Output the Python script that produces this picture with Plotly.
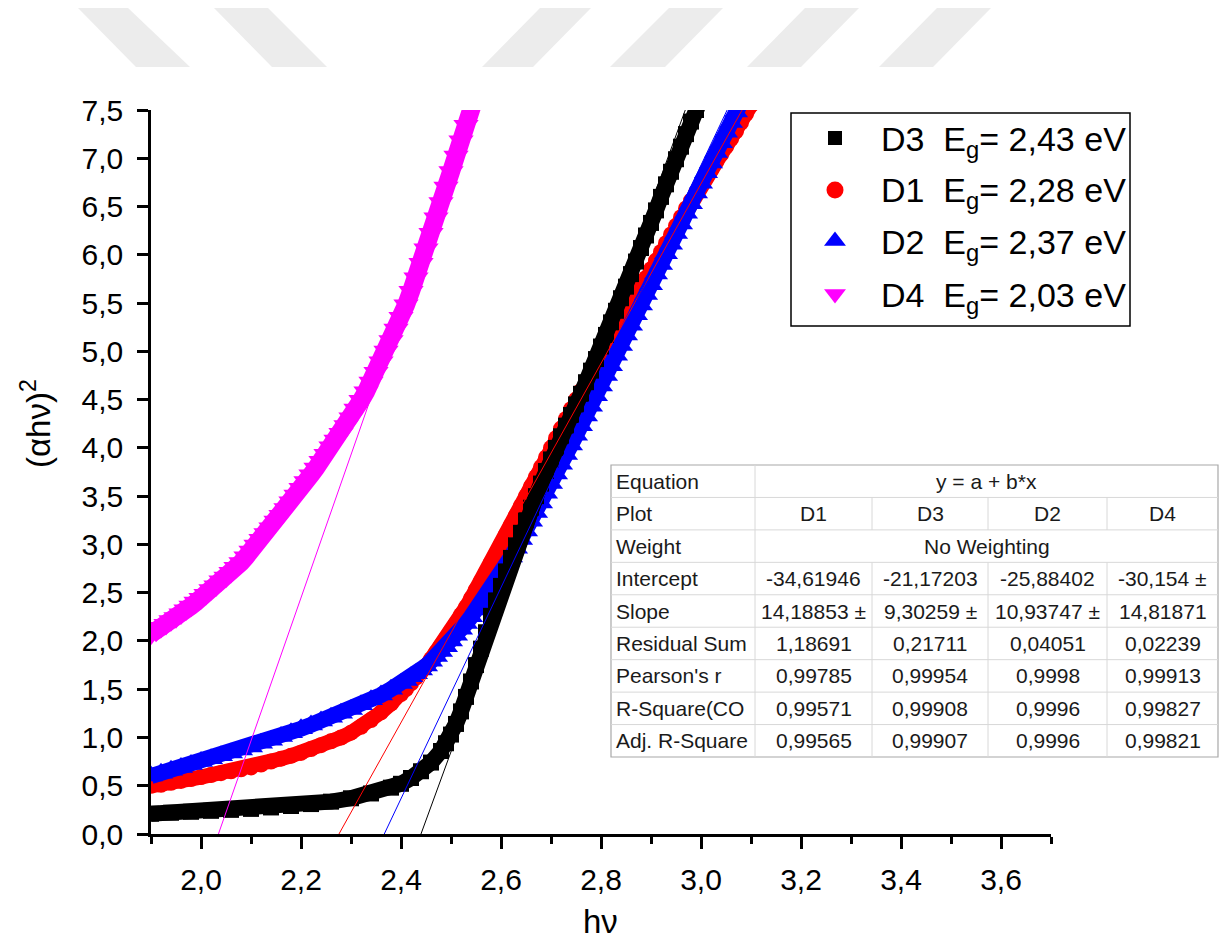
import plotly.graph_objects as go

# ---------------- measured curves: photon energy (eV) and (alpha*h*nu)^2 ----------------
D3_hv = [1.90, 1.94, 1.98, 2.02, 2.06, 2.10, 2.14, 2.18, 2.22, 2.26, 2.30, 2.34, 2.38, 2.40,
         2.42, 2.44, 2.46, 2.48, 2.49, 2.50, 2.51, 2.52, 2.53, 2.54, 2.55, 2.56, 2.57, 2.58,
         2.59, 2.60, 2.61, 2.62, 2.63, 2.64, 2.65, 2.66, 2.67, 2.68, 2.69, 2.70, 2.71, 2.72,
         2.73, 2.74, 2.75, 2.76, 2.77, 2.78, 2.79, 2.80, 2.81, 2.82, 2.83, 2.84, 2.85, 2.86,
         2.87, 2.88, 2.89, 2.90, 2.91, 2.92, 2.93, 2.94, 2.95, 2.96, 2.97, 2.98, 2.99, 3.00]
D3_y = [0.21, 0.22, 0.23, 0.24, 0.25, 0.26, 0.275, 0.29, 0.31, 0.335, 0.37, 0.42, 0.48, 0.52,
        0.58, 0.65, 0.74, 0.86, 0.94, 1.03, 1.14, 1.27, 1.42, 1.58, 1.75, 1.92, 2.09, 2.26,
        2.42, 2.57, 2.72, 2.86, 2.99, 3.12, 3.25, 3.38, 3.50, 3.63, 3.76, 3.88, 4.00, 4.12,
        4.23, 4.34, 4.45, 4.56, 4.68, 4.80, 4.92, 5.05, 5.17, 5.30, 5.42, 5.55, 5.67, 5.80,
        5.93, 6.07, 6.20, 6.33, 6.46, 6.60, 6.73, 6.86, 6.99, 7.12, 7.25, 7.38, 7.50, 7.62]

D1_hv = [1.90, 1.92, 1.94, 1.96, 1.98, 2.00, 2.02, 2.04, 2.06, 2.08, 2.10, 2.12, 2.14, 2.16,
         2.18, 2.20, 2.22, 2.24, 2.26, 2.28, 2.30, 2.32, 2.34, 2.36, 2.38, 2.40, 2.41, 2.42,
         2.43, 2.44, 2.45, 2.46, 2.47, 2.48, 2.49, 2.50, 2.51, 2.52, 2.53, 2.54, 2.55, 2.56,
         2.57, 2.58, 2.59, 2.60, 2.61, 2.62, 2.63, 2.64, 2.65, 2.66, 2.67, 2.68, 2.69, 2.70,
         2.71, 2.72, 2.73, 2.74, 2.75, 2.76, 2.77, 2.78, 2.79, 2.80, 2.81, 2.82, 2.83, 2.84,
         2.85, 2.86, 2.87, 2.88, 2.89, 2.90, 2.91, 2.92, 2.93, 2.94, 2.95, 2.96, 2.97, 2.98,
         2.99, 3.00, 3.01, 3.02, 3.03, 3.04, 3.05, 3.06, 3.07, 3.08, 3.09, 3.10]
D1_y = [0.50, 0.51, 0.53, 0.55, 0.57, 0.59, 0.61, 0.63, 0.65, 0.67, 0.69, 0.72, 0.75, 0.78,
        0.81, 0.84, 0.88, 0.92, 0.96, 1.00, 1.05, 1.11, 1.18, 1.26, 1.35, 1.45, 1.50, 1.56,
        1.62, 1.68, 1.74, 1.81, 1.88, 1.95, 2.02, 2.10, 2.18, 2.27, 2.35, 2.44, 2.53, 2.62,
        2.71, 2.81, 2.90, 3.00, 3.10, 3.20, 3.30, 3.40, 3.50, 3.60, 3.70, 3.80, 3.90, 4.00,
        4.10, 4.20, 4.30, 4.40, 4.50, 4.59, 4.68, 4.77, 4.86, 4.95, 5.04, 5.13, 5.22, 5.31,
        5.40, 5.49, 5.58, 5.67, 5.76, 5.85, 5.94, 6.03, 6.12, 6.21, 6.30, 6.39, 6.48, 6.56,
        6.64, 6.72, 6.80, 6.88, 6.96, 7.04, 7.12, 7.20, 7.28, 7.37, 7.46, 7.55]

D2_hv = [1.90, 1.92, 1.94, 1.96, 1.98, 2.00, 2.02, 2.04, 2.06, 2.08, 2.10, 2.12, 2.14, 2.16,
         2.18, 2.20, 2.22, 2.24, 2.26, 2.28, 2.30, 2.32, 2.34, 2.36, 2.38, 2.40, 2.41, 2.42,
         2.43, 2.44, 2.45, 2.46, 2.47, 2.48, 2.49, 2.50, 2.51, 2.52, 2.53, 2.54, 2.55, 2.56,
         2.57, 2.58, 2.59, 2.60, 2.61, 2.62, 2.63, 2.64, 2.65, 2.66, 2.67, 2.68, 2.69, 2.70,
         2.71, 2.72, 2.73, 2.74, 2.75, 2.76, 2.77, 2.78, 2.79, 2.80, 2.81, 2.82, 2.83, 2.84,
         2.85, 2.86, 2.87, 2.88, 2.89, 2.90, 2.91, 2.92, 2.93, 2.94, 2.95, 2.96, 2.97, 2.98,
         2.99, 3.00, 3.01, 3.02, 3.03, 3.04, 3.05, 3.06, 3.07, 3.08]
D2_y = [0.60, 0.63, 0.66, 0.69, 0.72, 0.75, 0.78, 0.81, 0.84, 0.87, 0.90, 0.94, 0.97, 1.01,
        1.05, 1.09, 1.13, 1.17, 1.21, 1.25, 1.29, 1.34, 1.39, 1.44, 1.50, 1.56, 1.59, 1.63,
        1.66, 1.70, 1.74, 1.79, 1.84, 1.89, 1.94, 2.00, 2.06, 2.12, 2.18, 2.25, 2.32, 2.39,
        2.46, 2.54, 2.62, 2.70, 2.78, 2.87, 2.96, 3.05, 3.14, 3.24, 3.33, 3.43, 3.53, 3.63,
        3.73, 3.83, 3.93, 4.03, 4.13, 4.23, 4.33, 4.43, 4.54, 4.64, 4.75, 4.85, 4.96, 5.06,
        5.17, 5.27, 5.38, 5.48, 5.59, 5.69, 5.80, 5.90, 6.01, 6.11, 6.22, 6.32, 6.43, 6.53,
        6.64, 6.74, 6.85, 6.95, 7.06, 7.16, 7.27, 7.37, 7.48, 7.58]

D4_hv = [1.90, 1.91, 1.92, 1.93, 1.94, 1.95, 1.96, 1.97, 1.98, 1.99, 2.00, 2.01, 2.02, 2.03,
         2.04, 2.05, 2.06, 2.07, 2.08, 2.09, 2.10, 2.11, 2.12, 2.13, 2.14, 2.15, 2.16, 2.17,
         2.18, 2.19, 2.20, 2.21, 2.22, 2.23, 2.24, 2.25, 2.26, 2.27, 2.28, 2.29, 2.30, 2.31,
         2.32, 2.33, 2.34, 2.35, 2.36, 2.37, 2.38, 2.39, 2.40, 2.41, 2.42, 2.43, 2.44, 2.45,
         2.46, 2.47, 2.48, 2.49, 2.50, 2.51, 2.52, 2.53, 2.54, 2.55]
D4_y = [2.07, 2.10, 2.14, 2.17, 2.21, 2.24, 2.28, 2.32, 2.36, 2.40, 2.44, 2.48, 2.53, 2.57,
        2.62, 2.66, 2.71, 2.76, 2.81, 2.87, 2.93, 2.99, 3.05, 3.11, 3.17, 3.24, 3.30, 3.37,
        3.44, 3.51, 3.58, 3.65, 3.72, 3.79, 3.86, 3.93, 4.01, 4.08, 4.15, 4.23, 4.31, 4.40,
        4.49, 4.58, 4.68, 4.78, 4.89, 5.00, 5.11, 5.23, 5.35, 5.48, 5.62, 5.76, 5.91, 6.06,
        6.22, 6.38, 6.54, 6.70, 6.86, 7.02, 7.18, 7.34, 7.50, 7.66]

# ---------------- linear fits (columns in table order) ----------------
FIT_PLOTS = ["D1", "D3", "D2", "D4"]
FIT_INTERCEPT = [-34.61946, -21.17203, -25.88402, -30.154]
FIT_SLOPE = [14.18853, 9.30259, 10.93747, 14.81871]
FIT_COLORS = ["#000000", "#ff0000", "#0000ff", "#ff00ff"]

TABLE_ROWS = ["Equation", "Plot", "Weight", "Intercept", "Slope", "Residual Sum",
              "Pearson's r", "R-Square(CO", "Adj. R-Square"]
TABLE_EQUATION = "y = a + b*x"
TABLE_WEIGHT = "No Weighting"
TABLE_INTERCEPT = ["-34,61946", "-21,17203", "-25,88402", "-30,154 ±"]
TABLE_SLOPE = ["14,18853 ±", "9,30259 ±", "10,93747 ±", "14,81871"]
TABLE_RESIDUAL = ["1,18691", "0,21711", "0,04051", "0,02239"]
TABLE_PEARSON = ["0,99785", "0,99954", "0,9998", "0,99913"]
TABLE_RSQ = ["0,99571", "0,99908", "0,9996", "0,99827"]
TABLE_ADJ_RSQ = ["0,99565", "0,99907", "0,9996", "0,99821"]

LEGEND_NAMES = ["D3", "D1", "D2", "D4"]
LEGEND_EG = ["2,43", "2,28", "2,37", "2,03"]

X_TICKS = [2.0, 2.2, 2.4, 2.6, 2.8, 3.0, 3.2, 3.4, 3.6]
X_TICK_TEXT = ["2,0", "2,2", "2,4", "2,6", "2,8", "3,0", "3,2", "3,4", "3,6"]
X_MINOR = [1.9, 2.1, 2.3, 2.5, 2.7, 2.9, 3.1, 3.3, 3.5, 3.7]
Y_TICKS = [0.0, 0.5, 1.0, 1.5, 2.0, 2.5, 3.0, 3.5, 4.0, 4.5, 5.0, 5.5, 6.0, 6.5, 7.0, 7.5]
Y_TICK_TEXT = ["0,0", "0,5", "1,0", "1,5", "2,0", "2,5", "3,0", "3,5", "4,0", "4,5",
               "5,0", "5,5", "6,0", "6,5", "7,0", "7,5"]
X_RANGE = [1.9, 3.7]
Y_RANGE = [0.0, 7.5]

FONT = "Liberation Sans, Arial, sans-serif"
W, H = 1219, 944
L, R, T, B = 151, 1051, 110, 834   # plot area in pixels


def px(x):
    return (x - L) / (R - L)


def py(y):
    return (B - y) / (B - T)


fig = go.Figure()

# sample curves, dense symbols drawn as thick bands
series = [
    (D1_hv, D1_y, "circle", 16, 15, "#ff0000"),
    (D2_hv, D2_y, "triangle-up", 21, 16, "#0000ff"),
    (D3_hv, D3_y, "square", 16, 16, "#000000"),
    (D4_hv, D4_y, "triangle-down", 22, 18, "#ff00ff"),
]
for hv, yy, sym, size, lw, col in series:
    fig.add_trace(go.Scatter(
        x=hv, y=yy, mode="lines+markers",
        line=dict(color=col, width=lw),
        marker=dict(symbol=sym, size=size, color=col, line=dict(width=0)),
        showlegend=False, hoverinfo="skip"))

# extrapolated linear fits down to the energy axis
for a, b, col in zip(FIT_INTERCEPT, FIT_SLOPE, FIT_COLORS):
    x0 = -a / b
    x1 = (Y_RANGE[1] - a) / b
    fig.add_trace(go.Scatter(x=[x0, x1], y=[0.0, Y_RANGE[1]], mode="lines",
                             line=dict(color=col, width=1), showlegend=False,
                             hoverinfo="skip"))

# legend symbols (pixel-positioned overlay axes)
leg_syms = [("square", 14, "#000000"), ("circle", 17, "#ff0000"),
            ("triangle-up", 19, "#0000ff"), ("triangle-down", 19, "#ff00ff")]
leg_rows = [138, 190, 241, 294]
for (sym, size, col), ry in zip(leg_syms, leg_rows):
    fig.add_trace(go.Scatter(x=[835], y=[ry], mode="markers", xaxis="x2", yaxis="y2",
                             marker=dict(symbol=sym, size=size, color=col),
                             showlegend=False, hoverinfo="skip"))

shapes = []
annotations = []

# faint watermark stripes along the top of the page
stripes = [((78, 128), (136, 190)), ((214, 268), (272, 327)),
           ((540, 591), (482, 533)), ((669, 723), (610, 665)),
           ((805, 859), (747, 801)), ((937, 991), (879, 933))]
y_top, y_bot = 8, 67
for (t0, t1), (b0, b1) in stripes:
    path = "M {} {} L {} {} L {} {} L {} {} Z".format(
        px(t0), py(y_top), px(t1), py(y_top), px(b1), py(y_bot), px(b0), py(y_bot))
    shapes.append(dict(type="path", path=path, xref="paper", yref="paper",
                       fillcolor="#ececec", line=dict(width=0), layer="below"))

# legend frame and labels
shapes.append(dict(type="rect", xref="paper", yref="paper",
                   x0=px(791), x1=px(1130), y0=py(326), y1=py(113),
                   line=dict(color="#000000", width=1.5), fillcolor="rgba(0,0,0,0)",
                   layer="below"))
for name, eg, ry in zip(LEGEND_NAMES, LEGEND_EG, leg_rows):
    annotations.append(dict(
        x=px(879), y=py(ry + 3), xref="paper", yref="paper", xanchor="left",
        yanchor="middle", showarrow=False,
        text=name + "\u00a0\u00a0E<sub>g</sub>= " + eg + " eV",
        font=dict(family=FONT, size=34, color="#000000")))

# fit results table
tx0, tx1, ty0, ty1 = 611, 1218, 465, 757
col_edges = [611, 755, 872, 988, 1107, 1218]
n_rows = len(TABLE_ROWS)
rh = (ty1 - ty0) / n_rows
shapes.append(dict(type="rect", xref="paper", yref="paper", x0=px(tx0), x1=px(tx1),
                   y0=py(ty1), y1=py(ty0), line=dict(color="#a8a8a8", width=1.2),
                   fillcolor="#ffffff", layer="above"))
for k in range(1, n_rows):
    yk = ty0 + k * rh
    shapes.append(dict(type="line", xref="paper", yref="paper", x0=px(tx0), x1=px(tx1),
                       y0=py(yk), y1=py(yk), line=dict(color="#d8d8d8", width=1),
                       layer="above"))
shapes.append(dict(type="line", xref="paper", yref="paper", x0=px(col_edges[1]),
                   x1=px(col_edges[1]), y0=py(ty0), y1=py(ty1),
                   line=dict(color="#d8d8d8", width=1), layer="above"))
for ce in col_edges[2:5]:
    for r0, r1 in [(1, 2), (3, n_rows)]:
        shapes.append(dict(type="line", xref="paper", yref="paper", x0=px(ce), x1=px(ce),
                           y0=py(ty0 + r0 * rh), y1=py(ty0 + r1 * rh),
                           line=dict(color="#d8d8d8", width=1), layer="above"))

cell_font = dict(family=FONT, size=21, color="#1a1a1a")
value_rows = {1: FIT_PLOTS, 3: TABLE_INTERCEPT, 4: TABLE_SLOPE, 5: TABLE_RESIDUAL,
              6: TABLE_PEARSON, 7: TABLE_RSQ, 8: TABLE_ADJ_RSQ}
for i, label in enumerate(TABLE_ROWS):
    yc = ty0 + (i + 0.5) * rh
    annotations.append(dict(x=px(614), y=py(yc), xref="paper", yref="paper",
                            xanchor="left", yanchor="middle", showarrow=False,
                            text=label, font=cell_font))
    if i in value_rows:
        for j, v in enumerate(value_rows[i]):
            xc = (col_edges[j + 1] + col_edges[j + 2]) / 2
            annotations.append(dict(x=px(xc), y=py(yc), xref="paper", yref="paper",
                                    xanchor="center", yanchor="middle", showarrow=False,
                                    text=v, font=cell_font))
merged = {0: TABLE_EQUATION, 2: TABLE_WEIGHT}
for i, txt in merged.items():
    yc = ty0 + (i + 0.5) * rh
    annotations.append(dict(x=px((col_edges[1] + col_edges[5]) / 2), y=py(yc),
                            xref="paper", yref="paper", xanchor="center",
                            yanchor="middle", showarrow=False, text=txt, font=cell_font))

# axis titles
annotations.append(dict(x=px(600), y=py(922), xref="paper", yref="paper",
                        xanchor="center", yanchor="middle", showarrow=False, text="hν",
                        font=dict(family=FONT, size=33, color="#000000")))
annotations.append(dict(x=px(36), y=py(424), xref="paper", yref="paper",
                        xanchor="center", yanchor="middle", showarrow=False,
                        textangle=-90, text="(αhν)<sup>2</sup>",
                        font=dict(family=FONT, size=33, color="#000000")))

fig.update_layout(
    width=W, height=H,
    margin=dict(l=L, r=W - R, t=T, b=H - B, pad=0),
    paper_bgcolor="#ffffff", plot_bgcolor="#ffffff",
    showlegend=False,
    font=dict(family=FONT, color="#000000"),
    shapes=shapes, annotations=annotations,
    xaxis=dict(range=X_RANGE, showgrid=False, zeroline=False, showline=True,
               linecolor="#000000", linewidth=2.5, ticks="outside", ticklen=12,
               tickwidth=2.5, tickcolor="#000000", tickmode="array", tickvals=X_TICKS,
               ticktext=X_TICK_TEXT, tickfont=dict(family=FONT, size=30, color="#000000"),
               ticklabelstandoff=5,
               minor=dict(tickmode="array", tickvals=X_MINOR, ticks="outside", ticklen=7,
                          tickwidth=2.5, tickcolor="#000000", showgrid=False)),
    yaxis=dict(range=Y_RANGE, showgrid=False, zeroline=False, showline=True,
               linecolor="#000000", linewidth=2.5, ticks="outside", ticklen=11,
               tickwidth=2.5, tickcolor="#000000", tickmode="array", tickvals=Y_TICKS,
               ticktext=Y_TICK_TEXT, tickfont=dict(family=FONT, size=30, color="#000000"),
               ticklabelstandoff=8),
    xaxis2=dict(overlaying="x", range=[L, R], visible=False, fixedrange=True),
    yaxis2=dict(overlaying="y", range=[B, T], visible=False, fixedrange=True),
)

fig.write_html("out.html")
